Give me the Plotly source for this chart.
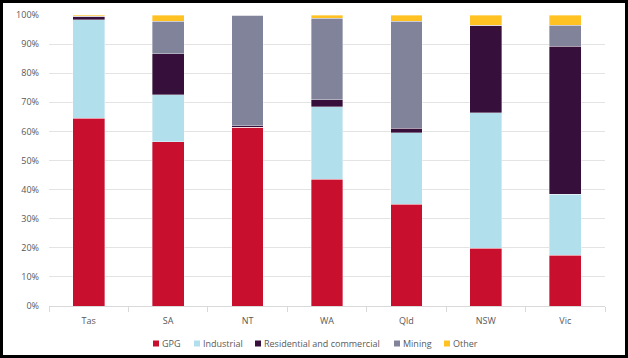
import plotly.graph_objects as go

categories = ["Tas", "SA", "NT", "WA", "Qld", "NSW", "Vic"]
gpg = [64.5, 56.4, 61.4, 43.6, 34.9, 19.9, 17.5]
industrial = [33.8, 16.2, 0.0, 24.9, 24.7, 46.5, 20.9]
residential = [1.3, 14.1, 0.5, 2.4, 1.5, 30.1, 50.8]
mining = [0.0, 11.2, 38.1, 28.0, 36.8, 0.0, 7.3]
other = [0.4, 2.1, 0.0, 1.1, 2.1, 3.5, 3.5]

series_names = ["GPG", "Industrial", "Residential and commercial", "Mining", "Other"]
series_values = [gpg, industrial, residential, mining, other]
series_colors = ["#C8102E", "#B2DFEC", "#36103B", "#81839B", "#FFC222"]

# legend layout (pixel positions of swatches)
legend_swatch_x = [153, 194, 255, 394, 444]

fig = go.Figure()
for name, vals, col in zip(series_names, series_values, series_colors):
    fig.add_trace(go.Bar(
        x=categories, y=[v / 100 for v in vals], name=name,
        marker=dict(color=col, line=dict(color="rgba(255,255,255,0.6)", width=0.6)),
        width=0.4, showlegend=False,
    ))

W, H = 628, 358
L, R, T, B = 49, 23, 15, 52
pw, ph = W - L - R, H - T - B

def px_x(p):
    return (p - L) / pw

def px_y(p):
    return (H - B - p) / ph

font_col = "#595959"
shapes = [dict(type="rect", xref="paper", yref="paper",
               x0=px_x(1.5), x1=px_x(626.5), y0=px_y(356.5), y1=px_y(1.5),
               line=dict(color="black", width=3), layer="above")]
annotations = []
for name, col, sx in zip(series_names, series_colors, legend_swatch_x):
    shapes.append(dict(type="rect", xref="paper", yref="paper",
                       x0=px_x(sx), x1=px_x(sx + 6), y0=px_y(346.5), y1=px_y(340.5),
                       fillcolor=col, line=dict(width=0)))
    annotations.append(dict(text=name, xref="paper", yref="paper",
                            x=px_x(sx + 8), y=px_y(343.5), xanchor="left", yanchor="middle",
                            showarrow=False, borderpad=0,
                            font=dict(size=9, color=font_col)))

fig.update_layout(
    width=W, height=H,
    barmode="stack",
    margin=dict(l=L, r=R, t=T, b=B, autoexpand=False),
    paper_bgcolor="white", plot_bgcolor="white",
    font=dict(family="Open Sans", size=9, color=font_col),
    showlegend=False,
    bargap=0.6,
    xaxis=dict(showgrid=False, showline=True, linecolor="#D9D9D9", linewidth=1,
               ticks="outside", tickson="boundaries", ticklen=5, tickcolor="#D9D9D9",
               ticklabelstandoff=6,
               tickfont=dict(size=9, color=font_col)),
    yaxis=dict(range=[0, 1], tickformat=".0%", dtick=0.1, showgrid=True,
               gridcolor="#E3E3E3", gridwidth=1, zeroline=False, showline=False,
               ticks="", ticklabelstandoff=9,
               tickfont=dict(size=9, color=font_col)),
    shapes=shapes,
    annotations=annotations,
)

fig.write_html("out.html", config={"displayModeBar": False},
               post_script="document.body.style.margin='0';document.body.style.overflow='hidden';")
